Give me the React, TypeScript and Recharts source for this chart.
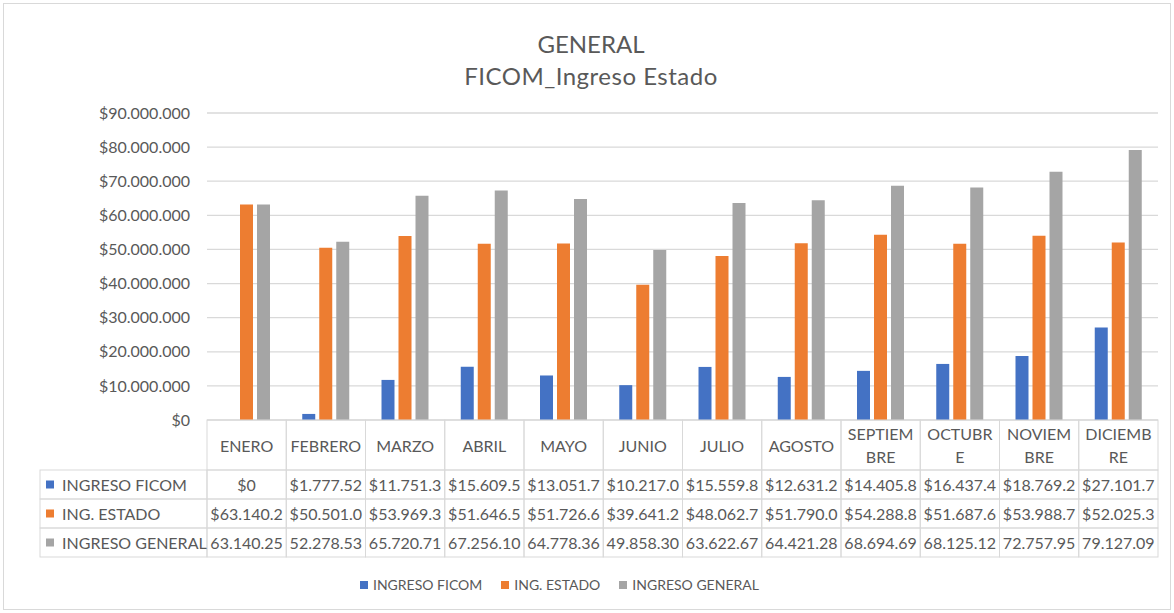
import { BarChart, Bar, XAxis, YAxis, CartesianGrid } from "recharts";

const months = [
  "ENERO", "FEBRERO", "MARZO", "ABRIL", "MAYO", "JUNIO",
  "JULIO", "AGOSTO", "SEPTIEMBRE", "OCTUBRE", "NOVIEMBRE", "DICIEMBRE",
];
const ingresoFicom = [
  0, 1777520, 11751330, 15609590, 13051700, 10217050,
  15559880, 12631240, 14405840, 16437440, 18769220, 27101750,
];
const ingEstado = [
  63140250, 50501010, 53969380, 51646510, 51726660, 39641250,
  48062790, 51790040, 54288850, 51687680, 53988730, 52025340,
];
const ingresoGeneral = [
  63140250, 52278530, 65720710, 67256100, 64778360, 49858300,
  63622670, 64421280, 68694690, 68125120, 72757950, 79127090,
];
const yTicks = [0, 10000000, 20000000, 30000000, 40000000, 50000000, 60000000, 70000000, 80000000, 90000000];

const seriesNames = ["INGRESO FICOM", "ING. ESTADO", "INGRESO GENERAL"];
const colors = ["#4472C4", "#ED7D31", "#A5A5A5"];

const data = months.map((m, i) => ({
  month: m,
  ficom: ingresoFicom[i],
  estado: ingEstado[i],
  general: ingresoGeneral[i],
}));

const FONT = "Lato, 'Open Sans', sans-serif";
const TEXT = "#595959";
const LINE = "#D9D9D9";

const W = 1174;
const H = 613;
const PLOT_LEFT = 207;
const PLOT_RIGHT = 1158;
const PLOT_TOP = 113;
const PLOT_BOTTOM = 420;
const BAND = (PLOT_RIGHT - PLOT_LEFT) / months.length;
const HEADER_H = 50;
const ROW_H = 29;
const TABLE_LEFT = 40;

function dots(n: number): string {
  return String(Math.round(n)).replace(/\B(?=(\d{3})+(?!\d))/g, ".");
}

// excel cuts the numbers that don't fit the cell
function cell(n: number, dollar: boolean): string {
  const s = (dollar ? "$" : "") + dots(n);
  return s.slice(0, 9);
}

let ctx: CanvasRenderingContext2D | null = null;
function measure(t: string): number {
  if (!ctx) ctx = document.createElement("canvas").getContext("2d");
  if (!ctx) return t.length * 9;
  ctx.font = "16px Lato";
  return ctx.measureText(t).width;
}

function wrap(label: string): string[] {
  const max = BAND - 6;
  if (measure(label) <= max) return [label];
  let cut = label.length;
  while (cut > 1 && measure(label.slice(0, cut)) > max) cut--;
  return [label.slice(0, cut), label.slice(cut)];
}

function TableTick(props: any) {
  const { x, y, payload } = props;
  const i = payload.index;
  const left = x - BAND / 2;
  const lines = wrap(months[i]);
  const rows = [
    cell(ingresoFicom[i], true),
    cell(ingEstado[i], true),
    cell(ingresoGeneral[i], false),
  ];
  return (
    <g style={{ fontFamily: FONT }}>
      <rect x={left} y={y} width={BAND} height={HEADER_H} fill="none" stroke={LINE} />
      {lines.map((l, k) => (
        <text
          key={k}
          x={x}
          y={y + HEADER_H / 2 + (k - (lines.length - 1) / 2) * 23}
          textAnchor="middle"
          dominantBaseline="central"
          fontSize={16}
          fill={TEXT}
        >
          {l}
        </text>
      ))}
      {rows.map((r, k) => (
        <g key={k}>
          <rect x={left} y={y + HEADER_H + k * ROW_H} width={BAND} height={ROW_H} fill="none" stroke={LINE} />
          <text
            x={x}
            y={y + HEADER_H + k * ROW_H + ROW_H / 2}
            textAnchor="middle"
            dominantBaseline="central"
            fontSize={16}
            fill={TEXT}
          >
            {r}
          </text>
        </g>
      ))}
      {i === 0 &&
        seriesNames.map((s, k) => (
          <g key={"l" + k}>
            <rect
              x={TABLE_LEFT}
              y={y + HEADER_H + k * ROW_H}
              width={left - TABLE_LEFT}
              height={ROW_H}
              fill="none"
              stroke={LINE}
            />
            <rect x={TABLE_LEFT + 6} y={y + HEADER_H + k * ROW_H + ROW_H / 2 - 4} width={8} height={8} fill={colors[k]} />
            <text
              x={TABLE_LEFT + 22}
              y={y + HEADER_H + k * ROW_H + ROW_H / 2}
              dominantBaseline="central"
              fontSize={16}
              fill={TEXT}
            >
              {s}
            </text>
          </g>
        ))}
    </g>
  );
}

export default function App() {
  return (
    <div
      style={{
        position: "absolute",
        left: 0,
        top: 0,
        width: W,
        height: H,
        background: "#fff",
        fontFamily: FONT,
        color: TEXT,
      }}
    >
      <div
        style={{
          position: "absolute",
          left: 3,
          top: 3,
          width: W - 8,
          height: H - 8,
          border: "1px solid #D9D9D9",
        }}
      />
      <div style={{ position: "absolute", left: 0, width: W, top: 28, textAlign: "center", fontSize: 24, lineHeight: "32px" }}>
        <div style={{ marginLeft: 8 }}>GENERAL</div>
        <div style={{ marginLeft: 8, letterSpacing: 0.5 }}>FICOM_Ingreso Estado</div>
      </div>
      <div style={{ position: "absolute", left: 0, top: 0 }}>
        <BarChart
          width={W}
          height={H}
          data={data}
          margin={{ top: PLOT_TOP, right: W - PLOT_RIGHT, bottom: 0, left: 0 }}
          barSize={13}
          barGap={4}
          style={{ fontFamily: FONT }}
        >
          <CartesianGrid vertical={false} stroke={LINE} strokeWidth={1.3} />
          <XAxis
            dataKey="month"
            height={H - PLOT_BOTTOM}
            interval={0}
            tickLine={false}
            axisLine={false}
            tickSize={0}
            tickMargin={0}
            tick={<TableTick />}
          />
          <YAxis
            width={PLOT_LEFT}
            domain={[0, 90000000]}
            ticks={yTicks}
            tickLine={false}
            axisLine={false}
            tickSize={0}
            tickMargin={17}
            tick={{ fontSize: 16, fill: TEXT }}
            tickFormatter={(v: number) => "$" + dots(v)}
          />
          <Bar dataKey="ficom" name={seriesNames[0]} fill={colors[0]} isAnimationActive={false} />
          <Bar dataKey="estado" name={seriesNames[1]} fill={colors[1]} isAnimationActive={false} />
          <Bar dataKey="general" name={seriesNames[2]} fill={colors[2]} isAnimationActive={false} />
        </BarChart>
      </div>
      <div
        style={{
          position: "absolute",
          left: 360,
          top: 576,
          display: "flex",
          alignItems: "center",
          fontSize: 14,
          lineHeight: "18px",
          whiteSpace: "nowrap",
        }}
      >
        {seriesNames.map((s, k) => (
          <div key={s} style={{ display: "flex", alignItems: "center", marginRight: 19 }}>
            <span style={{ width: 8, height: 8, background: colors[k], marginRight: 5, display: "inline-block" }} />
            {s}
          </div>
        ))}
      </div>
    </div>
  );
}
